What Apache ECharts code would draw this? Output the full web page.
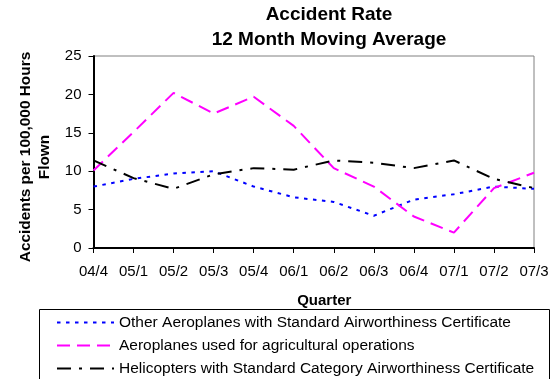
<!DOCTYPE html>
<html>
<head>
<meta charset="utf-8">
<script src="https://cdn.jsdelivr.net/npm/echarts@6/dist/echarts.min.js"></script>
<style>
  html, body { margin: 0; padding: 0; background: #fff; }
  #chart { width: 555px; height: 379px; }
</style>
</head>
<body>
<div id="chart"></div>
<script>
// Quarterly accident rates (12 month moving average), accidents per 100,000 hours flown
const quarters = ['04/4', '05/1', '05/2', '05/3', '05/4', '06/1', '06/2', '06/3', '06/4', '07/1', '07/2', '07/3'];
const otherAeroplanes = [8.0, 9.0, 9.7, 10.0, 8.0, 6.6, 6.0, 4.2, 6.3, 7.0, 8.0, 7.7];
const agriculturalAeroplanes = [10.1, 15.1, 20.2, 17.5, 19.7, 15.9, 10.4, 8.0, 4.1, 2.0, 7.8, 9.8];
const helicopters = [11.4, 9.1, 7.7, 9.6, 10.4, 10.2, 11.4, 11.1, 10.4, 11.4, 9.0, 7.8];
const seriesNames = [
  'Other Aeroplanes with Standard Airworthiness Certificate',
  'Aeroplanes used for agricultural operations',
  'Helicopters with Standard Category Airworthiness Certificate'
];
const yTicks = { min: 0, max: 25, interval: 5 };

const FONT = '"Liberation Sans", Arial, sans-serif';
const chart = echarts.init(document.getElementById('chart'), null, { renderer: 'canvas' });

function lineSeries(name, data, color, dash) {
  return {
    name: name,
    type: 'line',
    data: data,
    symbol: 'none',
    showSymbol: false,
    silent: true,
    animation: false,
    itemStyle: { color: color },
    lineStyle: { color: color, width: 2, type: dash, cap: 'butt' }
  };
}

chart.setOption({
  animation: false,
  backgroundColor: '#fff',
  textStyle: { fontFamily: FONT },
  title: {
    text: 'Accident Rate\n12 Month Moving Average',
    left: 329,
    top: 2,
    textAlign: 'center',
    padding: 0,
    textStyle: { fontFamily: FONT, fontSize: 19, fontWeight: 'bold', color: '#000', lineHeight: 25 }
  },
  grid: {
    left: 93.5, right: 21, top: 56, bottom: 131,
    show: true, borderColor: '#808080', borderWidth: 1, backgroundColor: 'transparent',
    containLabel: false
  },
  legend: {
    orient: 'vertical',
    left: 56, top: 314.5,
    padding: 0,
    itemWidth: 57, itemHeight: 15, itemGap: 7,
    selectedMode: false,
    // line-only keys: the marker circle is hidden
    itemStyle: { opacity: 0 },
    textStyle: { fontFamily: FONT, fontSize: 15.5, color: '#000', lineHeight: 15 },
    data: seriesNames
  },
  xAxis: {
    type: 'category',
    data: quarters,
    boundaryGap: false,
    name: 'Quarter',
    nameLocation: 'middle',
    nameGap: 45,
    nameTextStyle: { fontFamily: FONT, fontSize: 15, fontWeight: 'bold', color: '#000', padding: [0, 0, 0, 21] },
    axisLine: { lineStyle: { color: '#000', width: 2 } },
    axisTick: { show: true, alignWithLabel: true, length: 5, lineStyle: { color: '#000', width: 1 } },
    axisLabel: { margin: 16, fontFamily: FONT, fontSize: 15, color: '#000', interval: 0 },
    splitLine: { show: false }
  },
  yAxis: {
    type: 'value',
    min: yTicks.min, max: yTicks.max, interval: yTicks.interval,
    name: 'Accidents per 100,000 Hours\nFlown',
    nameLocation: 'middle',
    nameRotate: 90,
    nameGap: 38,
    nameTextStyle: { fontFamily: FONT, fontSize: 15.4, fontWeight: 'bold', color: '#000', lineHeight: 19, padding: [0, 10, 0, 0] },
    axisLine: { show: true, lineStyle: { color: '#000', width: 2 } },
    axisTick: { show: true, length: 5, lineStyle: { color: '#000', width: 1 } },
    axisLabel: { margin: 12, fontFamily: FONT, fontSize: 15, color: '#000' },
    splitLine: { show: false }
  },
  graphic: [{
    type: 'rect',
    silent: true,
    shape: { x: 39.5, y: 309.5, width: 510, height: 90 },
    style: { fill: 'transparent', stroke: '#000', lineWidth: 1 }
  }],
  series: [
    lineSeries(seriesNames[0], otherAeroplanes, '#0000FF', [3.5, 5.5]),
    lineSeries(seriesNames[1], agriculturalAeroplanes, '#FF00FF', [13, 7]),
    lineSeries(seriesNames[2], helicopters, '#000000', [14, 8, 3, 8])
  ]
});
</script>
</body>
</html>
